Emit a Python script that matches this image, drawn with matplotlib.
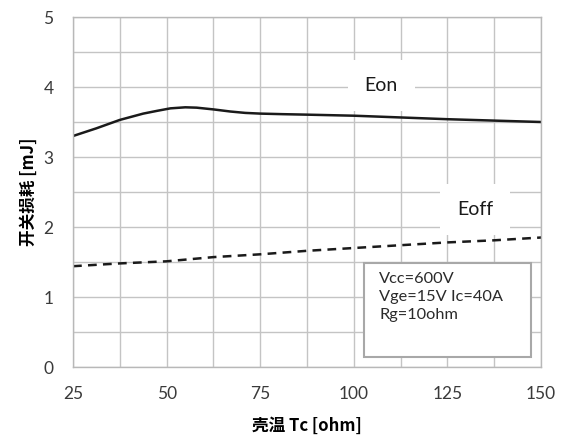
import matplotlib
matplotlib.use('Agg')
import matplotlib.pyplot as plt
from matplotlib.patches import Rectangle
from matplotlib.ticker import MultipleLocator

# 字体：中文用 Noto Sans CJK SC，西文回退
plt.rcParams['font.family'] = ['Lato', 'Noto Sans CJK SC', 'DejaVu Sans']

# 数据
eon_tc = [25, 31.25, 37.5, 43.75, 47.5, 51, 55, 58, 62.5, 67, 71, 75, 81, 87.5, 100,
          112.5, 125, 137.5, 150]
eon_val = [3.30, 3.41, 3.53, 3.62, 3.66, 3.695, 3.71, 3.705, 3.68, 3.65, 3.63, 3.62,
           3.612, 3.605, 3.59, 3.565, 3.54, 3.52, 3.50]
eoff_tc = [25, 37.5, 50, 62.5, 75, 87.5, 100, 112.5, 125, 137.5, 150]
eoff_val = [1.44, 1.48, 1.51, 1.57, 1.61, 1.66, 1.70, 1.74, 1.78, 1.81, 1.85]
x_ticks = [25, 50, 75, 100, 125, 150]
y_ticks = [0, 1, 2, 3, 4, 5]
cond_text = 'Vcc=600V\nVge=15V Ic=40A\nRg=10ohm'

fig = plt.figure(figsize=(5.63, 4.44), dpi=100)
ax = fig.add_axes([0.1297, 0.1734, 0.8313, 0.7883])

ax.plot(eon_tc, eon_val, color='#1a1a1a', lw=1.8, solid_joinstyle='round')
ax.plot(eoff_tc, eoff_val, color='#1a1a1a', lw=1.8, ls=(0, (3.5, 2.5)))

ax.set_xlim(25, 150)
ax.set_ylim(0, 5)
ax.set_xticks(x_ticks)
ax.set_yticks(y_ticks)
ax.xaxis.set_minor_locator(MultipleLocator(12.5))
ax.yaxis.set_minor_locator(MultipleLocator(0.5))
ax.grid(which='both', color='#c4c4c4', lw=1.0)
ax.set_axisbelow(True)
ax.tick_params(which='both', length=0)
ax.tick_params(axis='both', labelsize=12.5, labelcolor='#3a3a3a', pad=14)
for s in ax.spines.values():
    s.set_color('#b8b8b8')
    s.set_linewidth(1.0)

ax.set_xlabel('壳温 Tc [ohm]', fontsize=12, fontweight='bold', labelpad=10,
              family=['Noto Sans CJK SC', 'DejaVu Sans'])
ax.set_ylabel('开关损耗 [mJ]', fontsize=12, fontweight='bold', labelpad=4,
              family=['Noto Sans CJK SC', 'DejaVu Sans'])

# 曲线标签（白底遮住网格）
ax.text(107.3, 4.02, 'Eon', fontsize=14, ha='center', va='center', color='#1a1a1a',
        bbox=dict(facecolor='white', edgecolor='none', pad=12), zorder=3)
ax.text(132.4, 2.25, 'Eoff', fontsize=14, ha='center', va='center', color='#1a1a1a',
        bbox=dict(facecolor='white', edgecolor='none', pad=12), zorder=3)

# 条件框
ax.add_patch(Rectangle((0.622, 0.029), 0.357, 0.268, transform=ax.transAxes,
                       facecolor='white', edgecolor='#a8a8a8', lw=1.5, zorder=3))
ax.text(0.654, 0.272, cond_text, transform=ax.transAxes, fontsize=11.8,
        ha='left', va='top', linespacing=1.35, color='#2a2a2a', zorder=4)

plt.savefig('out.png', dpi=100)
